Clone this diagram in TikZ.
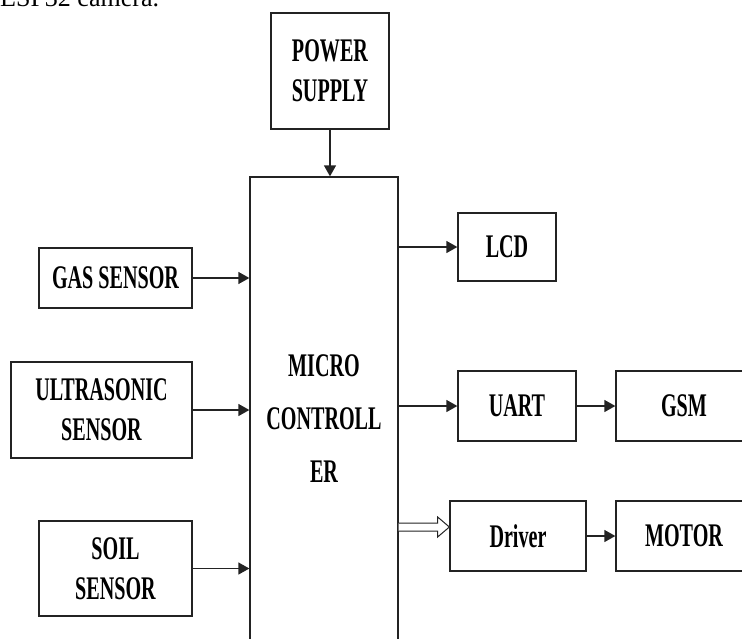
\documentclass[tikz,border=0pt]{standalone}
\usepackage{fontspec}
\usepackage{tikz}
\usetikzlibrary{arrows.meta,calc}
\setmainfont{Liberation Serif}
\newfontfamily\blockfont[FakeStretch=0.61]{Liberation Serif}
\definecolor{lineblack}{RGB}{35,35,35}
\tikzset{
  block/.style={draw=lineblack, line width=1.3pt, inner sep=0pt, align=center,
    font=\blockfont\bfseries\fontsize{33}{40}\selectfont},
  link/.style={draw=lineblack, line width=1.3pt, -{Triangle[length=11pt,width=12pt]}},
  hollow/.style={draw=lineblack, line width=1pt, fill=white}
}

\begin{document}
\begin{tikzpicture}[x=1pt,y=-1pt]
    \useasboundingbox (0,0) rectangle (742,638);
    \clip (0,0) rectangle (742,638);
    \node[anchor=base west, inner sep=0pt, font=\fontsize{26}{30}\selectfont] (caption) at (0,6) {ESP32 camera.};
    % controller and inputs
    \node[block, minimum width=118, minimum height=116] (power) at (330,71) {POWER\\SUPPLY};
    \node[block, minimum width=148, minimum height=484, font=\blockfont\bfseries\fontsize{33}{53}\selectfont] (micro) at (324,419) {MICRO\\CONTROLL\\ER};
    \node[block, minimum width=153, minimum height=60] (gas) at (115.5,278) {GAS SENSOR};
    \node[block, minimum width=181, minimum height=96] (ultra) at (101.5,410) {ULTRASONIC\\SENSOR};
    \node[block, minimum width=153, minimum height=95] (soil) at (115.5,568.5) {SOIL\\SENSOR};
    % outputs
    \node[block, minimum width=98, minimum height=68] (lcd) at (507,247) {LCD};
    \node[block, minimum width=118, minimum height=70] (uart) at (517,406) {UART};
    \node[block, minimum width=136, minimum height=70] (gsm) at (684,406) {GSM};
    \node[block, minimum width=136, minimum height=70] (driver) at (518,536) {Driver};
    \node[block, minimum width=136, minimum height=70] (motor) at (684,536) {MOTOR};
    \draw[link] (power.south) -- (power.south |- micro.north);
    \draw[link] (gas.east) -- (gas.east -| micro.west);
    \draw[link] (ultra.east) -- (ultra.east -| micro.west);
    \draw[link] (soil.east) -- (soil.east -| micro.west);
    \draw[link] (micro.east |- lcd.west) -- (lcd.west);
    \draw[link] (micro.east |- uart.west) -- (uart.west);
    \draw[link] (uart.east) -- (gsm.west);
    \draw[link] (driver.east) -- (motor.west);
    % hollow arrow to the driver
    \coordinate (hs) at (micro.east |- 0,527);
    \draw[hollow] ($(hs)+(0,-4)$) -- ++(39,0) -- ++(0,-6) -- (driver.west |- hs)
      -- ($(hs)+(39,10)$) -- ++(0,-6) -- ($(hs)+(0,4)$);
\end{tikzpicture}
\end{document}
